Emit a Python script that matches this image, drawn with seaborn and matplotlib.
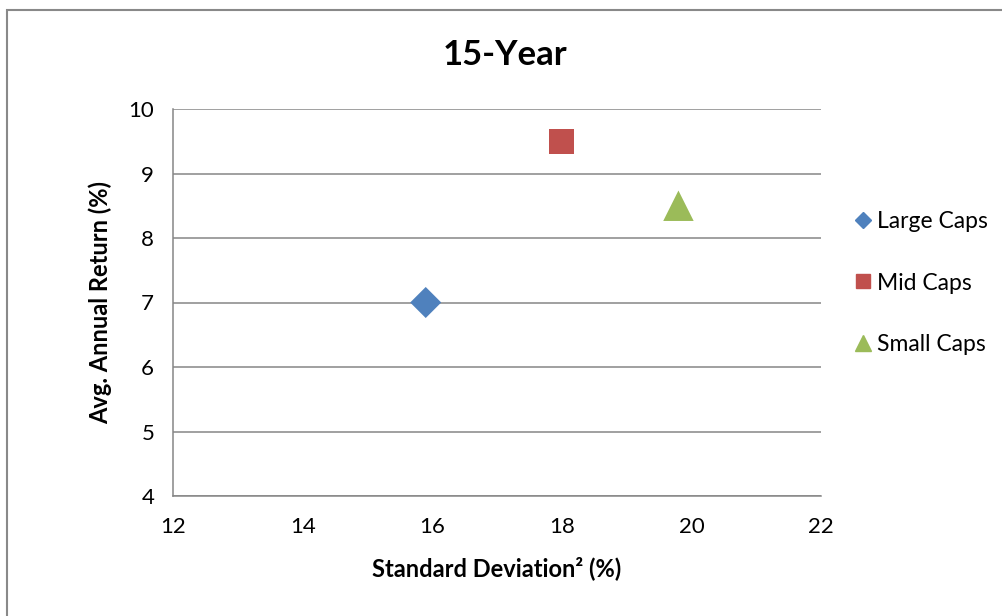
import matplotlib
matplotlib.use("Agg")
import matplotlib.pyplot as plt
import seaborn as sns
import pandas as pd
from matplotlib.lines import Line2D
from matplotlib.patches import Rectangle

# data
series = ["Large Caps", "Mid Caps", "Small Caps"]
std_dev = [15.9, 18.0, 19.8]
avg_return = [7.0, 9.5, 8.5]

colors = {"Large Caps": "#4F81BD", "Mid Caps": "#C0504D", "Small Caps": "#9BBB59"}
markers = {"Large Caps": "D", "Mid Caps": "s", "Small Caps": "^"}
sizes = {"Large Caps": 250, "Mid Caps": 324, "Small Caps": 480}

df = pd.DataFrame({"series": series, "sd": std_dev, "ret": avg_return})

sns.set_style("white")
plt.rcParams["font.family"] = ["Lato", "DejaVu Sans"]
plt.rcParams["text.color"] = "black"
plt.rcParams["xtick.labelcolor"] = "black"
plt.rcParams["ytick.labelcolor"] = "black"
plt.rcParams["axes.labelcolor"] = "black"
grey = "#868686"

fig = plt.figure(figsize=(10.03, 6.16), dpi=100)
ax = fig.add_axes([173 / 1003, 120 / 616, 648 / 1003, 387 / 616])

sns.scatterplot(data=df, x="sd", y="ret", hue="series", style="series",
                size="series", palette=colors, markers=markers, sizes=sizes,
                linewidth=0, legend=False, ax=ax, zorder=3)

ax.set_xlim(12, 22)
ax.set_ylim(4, 10)
ax.set_xticks(range(12, 23, 2))
ax.set_yticks(range(4, 11))
ax.grid(axis="y", color=grey, linewidth=1.1)
ax.grid(axis="x", visible=False)
for side in ["top", "right"]:
    ax.spines[side].set_visible(False)
for side in ["left", "bottom"]:
    ax.spines[side].set_color(grey)
    ax.spines[side].set_linewidth(1.1)
ax.tick_params(axis="x", direction="out", length=5, width=1.1, color=grey,
               labelsize=16, pad=10)
ax.tick_params(axis="y", direction="inout", length=9, width=1.1, color=grey,
               labelsize=16, pad=9)
ax.set_xlabel("Standard Deviation² (%)", fontsize=17, fontweight="bold", labelpad=14)
ax.set_ylabel("Avg. Annual Return (%)", fontsize=17, fontweight="bold", labelpad=12)

fig.text(505 / 1003, 1 - 55 / 616, "15-Year", fontsize=25, fontweight="bold",
         ha="center", va="center")

handles = [Line2D([], [], linestyle="none", marker=markers[s], color=colors[s],
                  markersize=m) for s, m in zip(series, [8, 10, 11])]
fig.legend(handles, series, loc="center left",
           bbox_to_anchor=(833 / 1003, 1 - 283 / 616), frameon=False,
           fontsize=16.5, handlelength=0.8, handletextpad=0.2, labelspacing=1.75)

fig.patches.append(Rectangle((7 / 1003, -0.1), 1.2, 1 - 10 / 616 + 0.1,
                             transform=fig.transFigure, fill=False,
                             edgecolor="#898989", linewidth=1.5))

fig.savefig("out.png", dpi=100)
